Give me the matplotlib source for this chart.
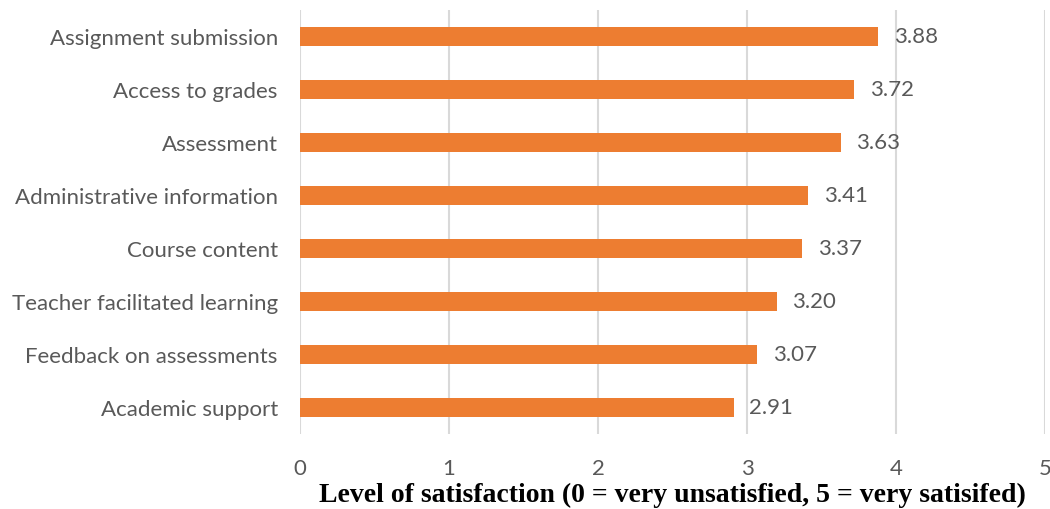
import matplotlib.pyplot as plt

categories = ['Academic support', 'Feedback on assessments', 'Teacher facilitated learning',
              'Course content', 'Administrative information', 'Assessment',
              'Access to grades', 'Assignment submission']
scores = [2.91, 3.07, 3.20, 3.37, 3.41, 3.63, 3.72, 3.88]
xticks = [0, 1, 2, 3, 4, 5]

text_color = '#595959'
plt.rcParams['font.family'] = ['Lato', 'DejaVu Sans']

fig = plt.figure(figsize=(10.5, 5.1), dpi=100)
ax = fig.add_axes([300 / 1050, 1 - 435 / 510, 745 / 1050, 424 / 510])

pos = range(len(categories))
ax.barh(pos, scores, height=0.34, color='#ED7D31', zorder=3)
for y, v in zip(pos, scores):
    ax.text(v + 0.105, y, '%.2f' % v, va='center', ha='left', fontsize=16, color=text_color)

ax.set_xlim(0, 5)
ax.set_ylim(-0.5, len(categories) - 0.5)
ax.set_xticks(xticks)
ax.set_xticklabels([str(t) for t in xticks])
ax.set_yticks(list(pos))
ax.set_yticklabels(categories)
ax.tick_params(axis='both', length=0, labelsize=16, labelcolor=text_color)
ax.tick_params(axis='x', pad=17.5)
ax.tick_params(axis='y', pad=16)

ax.grid(axis='x', color='#D9D9D9', linewidth=1.5, zorder=0)
for s in ax.spines.values():
    s.set_visible(False)

ax.set_xlabel('Level of satisfaction (0 = very unsatisfied, 5 = very satisifed)',
              fontfamily='Liberation Serif', fontweight='bold', fontsize=20,
              color='black', labelpad=2.5)

fig.savefig('out.png', dpi=100)
